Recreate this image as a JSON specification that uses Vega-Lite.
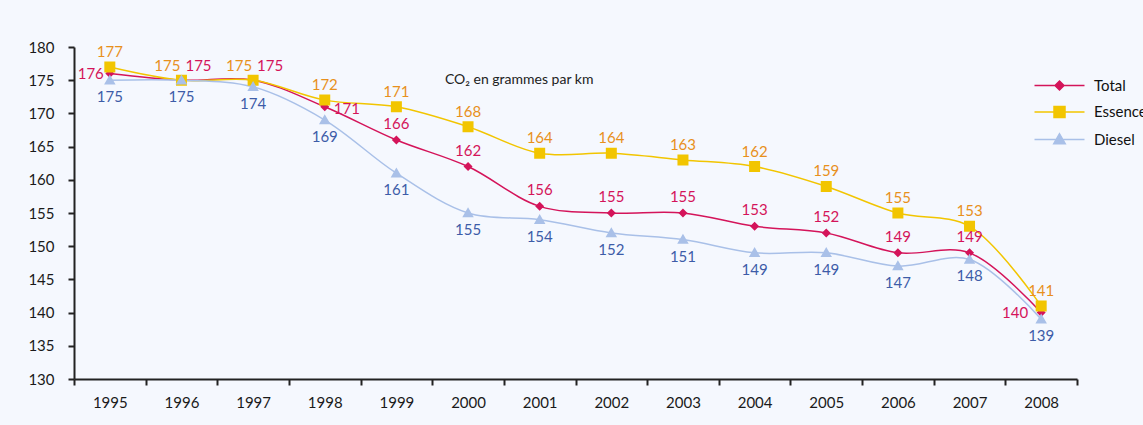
{
  "$schema": "https://vega.github.io/schema/vega-lite/v6.json",
  "width": 1003,
  "height": 332,
  "autosize": {"type": "none"},
  "padding": {"left": 74, "top": 47, "right": 66, "bottom": 46},
  "background": "#f5f8fe",
  "config": {
    "view": {"stroke": null},
    "font": "Lato",
    "text": {"font": "Lato", "fontSize": 15, "baseline": "middle"},
    "axis": {"labelFont": "Lato", "labelFontSize": 15, "labelColor": "#1a1a1a", "domainColor": "#222222", "tickColor": "#222222", "domainWidth": 2, "tickWidth": 2, "grid": false, "title": null},
    "legend": {"title": null, "orient": "none", "legendX": 978, "legendY": 31, "padding": 0, "symbolSize": 100, "symbolStrokeWidth": 1.5, "symbolOpacity": 1, "labelFontSize": 15, "labelFont": "Lato", "labelColor": "#111111", "labelOffset": 27, "rowPadding": 9.5}
  },
  "title": {"text": "CO₂ en grammes par km", "anchor": "start", "orient": "top", "offset": 0, "dx": 417, "dy": 54, "fontSize": 14, "font": "Lato", "fontWeight": "normal", "color": "#222222", "baseline": "middle"},
  "data": {"values": [
    {"year": 1995, "series": "Total", "value": 176}, {"year": 1995, "series": "Essence", "value": 177}, {"year": 1995, "series": "Diesel", "value": 175},
    {"year": 1996, "series": "Total", "value": 175}, {"year": 1996, "series": "Essence", "value": 175}, {"year": 1996, "series": "Diesel", "value": 175},
    {"year": 1997, "series": "Total", "value": 175}, {"year": 1997, "series": "Essence", "value": 175}, {"year": 1997, "series": "Diesel", "value": 174},
    {"year": 1998, "series": "Total", "value": 171}, {"year": 1998, "series": "Essence", "value": 172}, {"year": 1998, "series": "Diesel", "value": 169},
    {"year": 1999, "series": "Total", "value": 166}, {"year": 1999, "series": "Essence", "value": 171}, {"year": 1999, "series": "Diesel", "value": 161},
    {"year": 2000, "series": "Total", "value": 162}, {"year": 2000, "series": "Essence", "value": 168}, {"year": 2000, "series": "Diesel", "value": 155},
    {"year": 2001, "series": "Total", "value": 156}, {"year": 2001, "series": "Essence", "value": 164}, {"year": 2001, "series": "Diesel", "value": 154},
    {"year": 2002, "series": "Total", "value": 155}, {"year": 2002, "series": "Essence", "value": 164}, {"year": 2002, "series": "Diesel", "value": 152},
    {"year": 2003, "series": "Total", "value": 155}, {"year": 2003, "series": "Essence", "value": 163}, {"year": 2003, "series": "Diesel", "value": 151},
    {"year": 2004, "series": "Total", "value": 153}, {"year": 2004, "series": "Essence", "value": 162}, {"year": 2004, "series": "Diesel", "value": 149},
    {"year": 2005, "series": "Total", "value": 152}, {"year": 2005, "series": "Essence", "value": 159}, {"year": 2005, "series": "Diesel", "value": 149},
    {"year": 2006, "series": "Total", "value": 149}, {"year": 2006, "series": "Essence", "value": 155}, {"year": 2006, "series": "Diesel", "value": 147},
    {"year": 2007, "series": "Total", "value": 149}, {"year": 2007, "series": "Essence", "value": 153}, {"year": 2007, "series": "Diesel", "value": 148},
    {"year": 2008, "series": "Total", "value": 140}, {"year": 2008, "series": "Essence", "value": 141}, {"year": 2008, "series": "Diesel", "value": 139}
  ]},
  "encoding": {
    "x": {"field": "year", "type": "ordinal", "scale": {"type": "band", "paddingInner": 0, "paddingOuter": 0},
      "axis": {"labelAngle": 0, "tickBand": "extent", "tickSize": 6, "labelPadding": 10}},
    "y": {"field": "value", "type": "quantitative", "scale": {"domain": [130, 180], "nice": false, "zero": false},
      "axis": {"values": [130, 135, 140, 145, 150, 155, 160, 165, 170, 175, 180], "tickSize": 6, "labelPadding": 14}}
  },
  "layer": [
    {
      "mark": {"type": "line", "interpolate": "catmull-rom", "strokeWidth": 1.5},
      "encoding": {
        "stroke": {"field": "series", "type": "nominal",
          "scale": {"domain": ["Total", "Essence", "Diesel"], "range": ["#d4145a", "#f2c500", "#a9c0e8"]}},
        "detail": {"field": "series"}
      }
    },
    {
      "mark": {"type": "point", "filled": true, "opacity": 1, "size": 100, "strokeWidth": 0},
      "encoding": {
        "color": {"field": "series", "type": "nominal",
          "scale": {"domain": ["Total", "Essence", "Diesel"], "range": ["#d4145a", "#f2c500", "#a9c0e8"]}},
        "stroke": {"field": "series", "type": "nominal"},
        "shape": {"field": "series", "type": "nominal", "scale": {"domain": ["Total", "Essence", "Diesel"],
          "range": ["M-5,0H5M-0.9,0L0,-0.9L0.9,0L0,0.9Z", "M-5,0H5M-1.1,-1.1H1.1V1.1H-1.1Z", "M-5,0H5M0,-1.15L1.15,0.85H-1.15Z"]}}
      }
    },
    {
      "transform": [{"filter": "datum.series === 'Essence' && datum.year !== 1996 && datum.year !== 1997"}],
      "mark": {"type": "text", "dy": -15, "color": "#e8901c"},
      "encoding": {"text": {"field": "value", "type": "quantitative"}}
    },
    {
      "transform": [{"filter": "datum.series === 'Essence' && (datum.year === 1996 || datum.year === 1997)"}],
      "mark": {"type": "text", "dy": -14, "dx": -1, "align": "right", "color": "#e8901c"},
      "encoding": {"text": {"field": "value", "type": "quantitative"}}
    },
    {
      "transform": [{"filter": "datum.series === 'Diesel'"}],
      "mark": {"type": "text", "dy": 17, "color": "#3d5ca8"},
      "encoding": {"text": {"field": "value", "type": "quantitative"}}
    },
    {
      "transform": [{"filter": "datum.series === 'Total' && datum.year >= 1999 && datum.year <= 2007"}],
      "mark": {"type": "text", "dy": -16, "color": "#d4145a"},
      "encoding": {"text": {"field": "value", "type": "quantitative"}}
    },
    {
      "transform": [{"filter": "datum.series === 'Total' && datum.year === 1995"}],
      "mark": {"type": "text", "dx": -6, "dy": 0, "align": "right", "color": "#d4145a"},
      "encoding": {"text": {"field": "value", "type": "quantitative"}}
    },
    {
      "transform": [{"filter": "datum.series === 'Total' && (datum.year === 1996 || datum.year === 1997)"}],
      "mark": {"type": "text", "dx": 4, "dy": -14, "align": "left", "color": "#d4145a"},
      "encoding": {"text": {"field": "value", "type": "quantitative"}}
    },
    {
      "transform": [{"filter": "datum.series === 'Total' && datum.year === 1998"}],
      "mark": {"type": "text", "dx": 9, "dy": 2, "align": "left", "color": "#d4145a"},
      "encoding": {"text": {"field": "value", "type": "quantitative"}}
    },
    {
      "transform": [{"filter": "datum.series === 'Total' && datum.year === 2008"}],
      "mark": {"type": "text", "dx": -13, "dy": 0, "align": "right", "color": "#d4145a"},
      "encoding": {"text": {"field": "value", "type": "quantitative"}}
    }
  ]
}
